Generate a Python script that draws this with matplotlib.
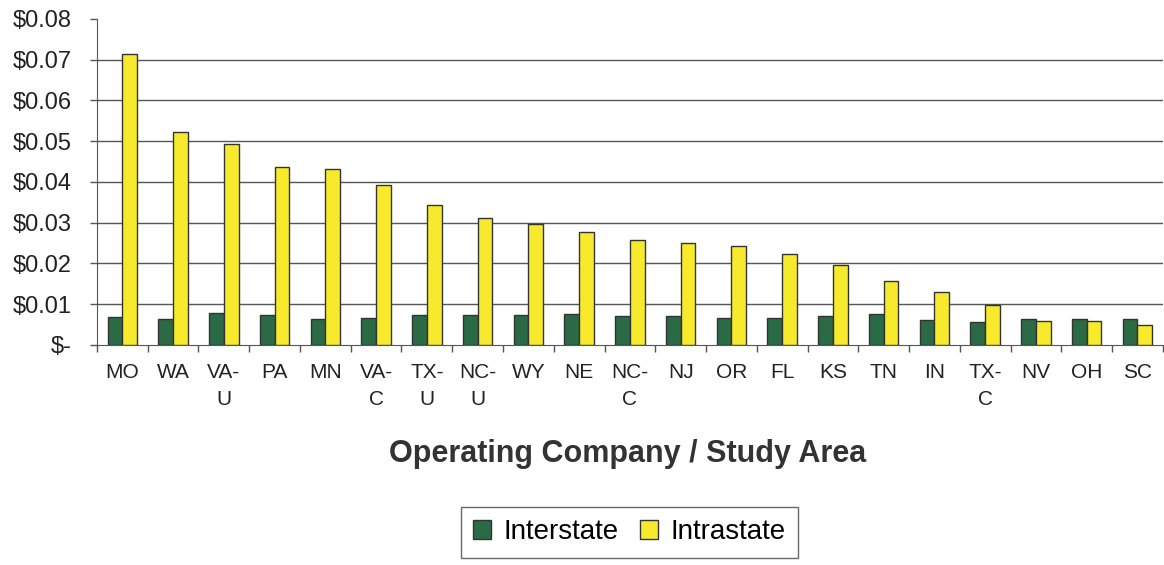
import matplotlib
matplotlib.use("Agg")
import matplotlib.pyplot as plt
import numpy as np

categories = ["MO", "WA", "VA-\nU", "PA", "MN", "VA-\nC", "TX-\nU", "NC-\nU", "WY", "NE",
              "NC-\nC", "NJ", "OR", "FL", "KS", "TN", "IN", "TX-\nC", "NV", "OH", "SC"]
interstate = [0.0069, 0.0064, 0.0079, 0.0074, 0.0064, 0.0067, 0.0073, 0.0073, 0.0073, 0.0077,
              0.0071, 0.0071, 0.0066, 0.0066, 0.0071, 0.0077, 0.0061, 0.0056, 0.0065, 0.0065, 0.0065]
intrastate = [0.0714, 0.0523, 0.0493, 0.0437, 0.0432, 0.0393, 0.0344, 0.0312, 0.0297, 0.0277,
              0.0258, 0.0250, 0.0243, 0.0223, 0.0196, 0.0157, 0.0129, 0.0097, 0.0059, 0.0059, 0.0048]
ytick_vals = [0, 0.01, 0.02, 0.03, 0.04, 0.05, 0.06, 0.07, 0.08]
ytick_labels = ["$-", "$0.01", "$0.02", "$0.03", "$0.04", "$0.05", "$0.06", "$0.07", "$0.08"]

plt.rcParams['font.family'] = ['Liberation Sans', 'DejaVu Sans']

fig = plt.figure(figsize=(11.64, 5.65), dpi=100)
ax = fig.add_axes([0.0833, 0.3894, 0.9157, 0.577])

x = np.arange(len(categories))
w = 0.29
green = "#2a6a45"
yellow = "#f7ea2c"
edge = "#333333"
ax.bar(x - w / 2, interstate, w, color=green, edgecolor=edge, linewidth=1.0, label="Interstate", zorder=3)
ax.bar(x + w / 2, intrastate, w, color=yellow, edgecolor=edge, linewidth=1.0, label="Intrastate", zorder=3)

ax.set_xlim(-0.5, len(categories) - 0.5)
ax.set_ylim(0, 0.08)
ax.set_yticks(ytick_vals)
ax.set_yticklabels(ytick_labels, fontsize=17, color="#222222")
for gv in ytick_vals[1:-1]:
    ax.axhline(gv, color="#555555", linewidth=1.0, zorder=1)

ax.set_xticks(x)
ax.set_xticklabels(categories, fontsize=15, color="#222222", linespacing=1.55, va="top")
ax.set_xticks(np.arange(len(categories) + 1) - 0.5, minor=True)
ax.tick_params(axis="x", which="major", length=0, pad=13)
ax.tick_params(axis="x", which="minor", length=5, width=1, color="#555555", direction="out")
ax.tick_params(axis="y", length=5, width=1, color="#555555", pad=13)

for s in ["top", "right"]:
    ax.spines[s].set_visible(False)
ax.spines["left"].set_color("#555555")
ax.spines["bottom"].set_color("#555555")

ax.set_xlabel("Operating Company / Study Area", fontsize=22, fontweight="bold", color="#333333", va="center")
ax.xaxis.set_label_coords(0.4975, -0.334)

leg = fig.legend(loc="center", bbox_to_anchor=(0.5408, 0.0584), ncol=2, fontsize=20, frameon=True,
                 fancybox=False, edgecolor="#444444", handlelength=0.65, handleheight=0.65,
                 handletextpad=0.45, columnspacing=0.75, borderpad=0.45, borderaxespad=0)
leg.get_frame().set_linewidth(1.0)

fig.savefig("out.png", dpi=100)
